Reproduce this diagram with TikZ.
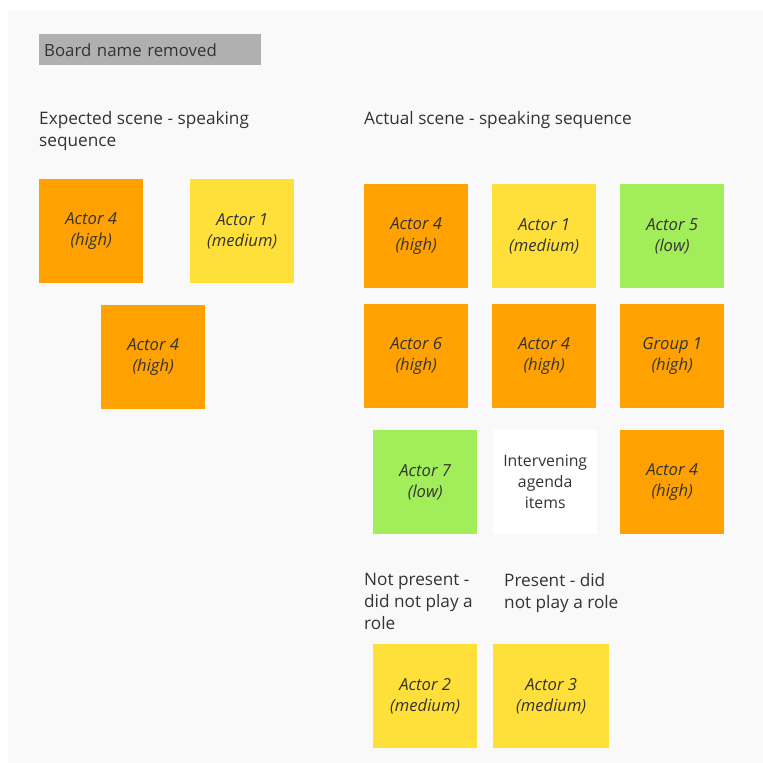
\documentclass[tikz,border=0pt]{standalone}
\usepackage{fontspec}
\setmainfont{Open Sans}
\definecolor{boardbg}{RGB}{249,249,249}
\definecolor{titlegray}{RGB}{176,176,176}
\definecolor{txt}{RGB}{51,51,51}
\definecolor{stkorange}{RGB}{255,161,0}
\definecolor{stkyellow}{RGB}{255,224,58}
\definecolor{stkgreen}{RGB}{162,238,90}
\tikzset{
  sticky/.style={anchor=north west, minimum width=104pt, minimum height=104pt,
    inner sep=0pt, align=center, text=txt, font=\fontsize{16.6}{21}\selectfont\itshape},
  high/.style={sticky, fill=stkorange},
  medium/.style={sticky, fill=stkyellow},
  low/.style={sticky, fill=stkgreen},
  plain/.style={sticky, fill=white, font=\fontsize{15.8}{21}\selectfont},
  caption/.style={anchor=north west, inner sep=0pt, align=left, text=txt,
    font=\fontsize{17.2}{22}\selectfont}
}
\begin{document}
\begin{tikzpicture}[x=1pt,y=-1pt]
  \useasboundingbox (0,0) rectangle (763,763);
  \fill[white] (0,0) rectangle (763,763);
  \fill[boardbg] (8,10) rectangle (763,763);

  % board title
  \node[fill=titlegray, anchor=north west, minimum width=222pt, minimum height=31pt,
        text width=212pt, inner xsep=5pt, inner ysep=0pt, align=left, text=txt,
        font=\fontsize{16.8}{18}\selectfont] (title) at (39,34) {Board name removed};
  % headings
  \node[caption] (exphead) at (39,111) {Expected scene - speaking\\sequence};
  \node[caption] (acthead) at (364,111) {Actual scene - speaking sequence};

  % expected sequence
  \node[high]   (e1) at (39,179)  {Actor 4\\(high)};
  \node[medium] (e2) at (190,179) {Actor 1\\(medium)};
  \node[high]   (e3) at (101,305) {Actor 4\\(high)};

  % actual sequence
  \node[high]   (a1) at (364,184) {Actor 4\\(high)};
  \node[medium] (a2) at (492,184) {Actor 1\\(medium)};
  \node[low]    (a3) at (620,184) {Actor 5\\(low)};
  \node[high]   (a4) at (364,304) {Actor 6\\(high)};
  \node[high]   (a5) at (492,304) {Actor 4\\(high)};
  \node[high]   (a6) at (620,304) {Group 1\\(high)};
  \node[low]    (a7) at (373,430) {Actor 7\\(low)};
  \node[plain]  (a8) at (493,430) {Intervening\\agenda\\items};
  \node[high]   (a9) at (620,430) {Actor 4\\(high)};

  % not involved
  \node[caption] (nphead) at (364,573) {Not present -\\did not play a\\role};
  \node[caption] (phead)  at (504,573) {Present - did\\not play a role};
  \node[medium] (n1) at (373,644) {Actor 2\\(medium)};
  \node[medium, minimum width=116pt] (n2) at (493,644) {Actor 3\\(medium)};
\end{tikzpicture}
\end{document}
